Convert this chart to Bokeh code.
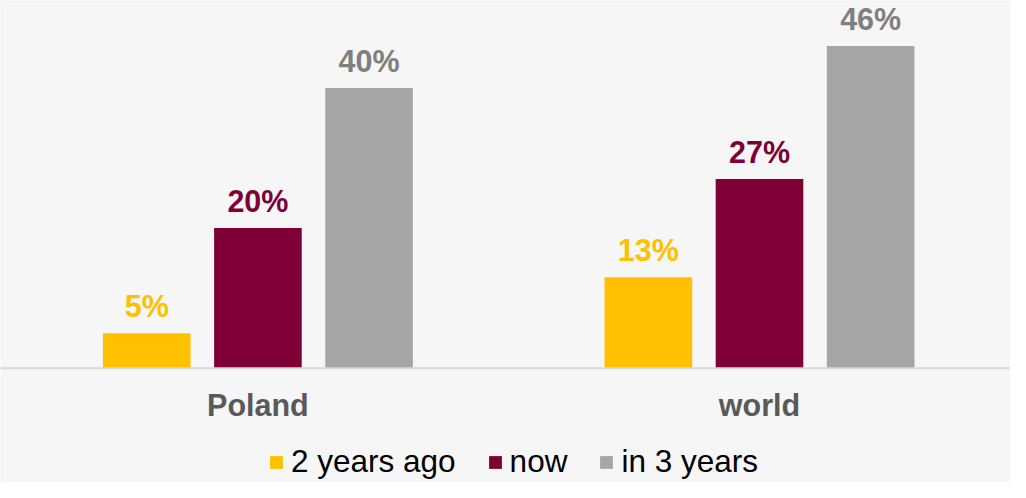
from bokeh.plotting import figure
from bokeh.models import ColumnDataSource, Range1d, Legend, LegendItem, Span
from bokeh.transform import dodge
from bokeh.core.properties import value
from bokeh.embed import file_html
from bokeh.resources import INLINE

# ---- data ----
categories = ["Poland", "world"]
series_names = ["2 years ago", "now", "in 3 years"]
two_years_ago = [5, 13]
now = [20, 27]
in_3_years = [40, 46]

# ---- style ----
bar_colors = ["#FFC000", "#7F0037", "#A6A6A6"]
label_colors = ["#FFC000", "#7F0037", "#7F7F7F"]
FONT = "Liberation Sans"
BG = "#f6f6f6"

p = figure(width=1010, height=482, output_backend="svg", toolbar_location=None,
           x_range=Range1d(-0.5132, 1.5004), y_range=Range1d(-16.30, 52.48),
           x_axis_location=None, y_axis_location=None,
           min_border_left=0, min_border_right=0, min_border_top=0, min_border_bottom=0)
p.background_fill_color = BG
p.border_fill_color = BG
p.outline_line_color = None
p.grid.visible = False

# baseline (category axis line)
p.add_layout(Span(location=0, dimension="width", line_color="#D9D9D9", line_width=2))

step = 0.2216
bar_w = 0.1747
xs = list(range(len(categories)))
items = []
for j, (name, vals) in enumerate(zip(series_names, [two_years_ago, now, in_3_years])):
    src = ColumnDataSource(dict(x=xs, y=vals, label=[f"{v}%" for v in vals]))
    off = (j - 1) * step
    r = p.vbar(x=dodge("x", off, range=p.x_range), top="y", bottom=0, width=bar_w, source=src,
               fill_color=bar_colors[j], line_color=None)
    p.text(x=dodge("x", off, range=p.x_range), y="y", text="label", source=src,
           text_align="center", text_baseline="alphabetic", y_offset=-27,
           text_font=value(FONT), text_font_style="bold", text_font_size="30.5px",
           text_color=label_colors[j])
    items.append(LegendItem(label=name, renderers=[r]))

# category labels
cat_src = ColumnDataSource(dict(x=xs, y=[0] * len(xs), name=categories))
p.text(x="x", y="y", text="name", source=cat_src, text_align="center",
       text_baseline="alphabetic", y_offset=37, text_font=value(FONT),
       text_font_style="bold", text_font_size="30.5px", text_color="#595959")

legend = Legend(items=items, orientation="horizontal", location=(268, 2),
                glyph_width=16, glyph_height=16, label_standoff=7, spacing=31,
                padding=0, margin=0, border_line_color=None, background_fill_alpha=0,
                label_text_font=FONT, label_text_font_size="31.5px", label_text_color="#000000")
p.add_layout(legend, "center")

html = file_html(p, INLINE)
html = html.replace("<body>", '<body style="background-color:%s;">' % BG, 1)
open("out.html", "w").write(html)
